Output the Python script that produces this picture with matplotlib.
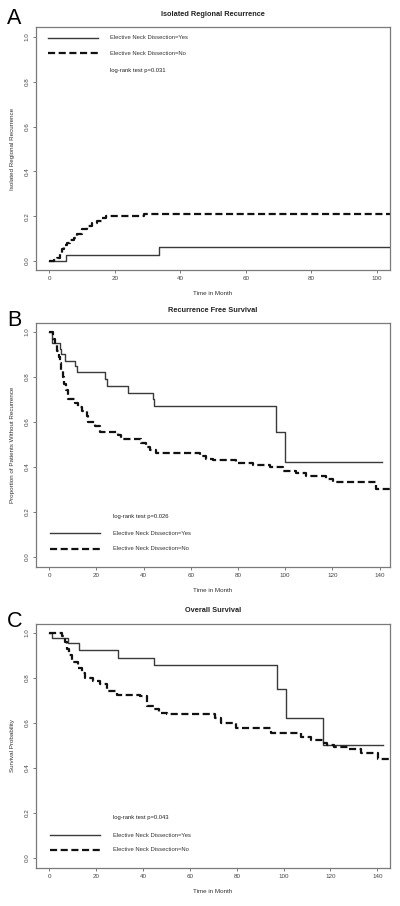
import matplotlib
matplotlib.use("Agg")
import matplotlib.pyplot as plt

plt.rcParams['font.family'] = ['Liberation Sans', 'DejaVu Sans']

# ---------------- Data ----------------
# Panel A: Isolated Regional Recurrence (cumulative incidence)
a_yes_t = [0, 5.3, 33.6, 104]
a_yes_v = [0.0, 0.025, 0.062, 0.062]
a_no_t = [0, 1.5, 2.5, 3.2, 3.8, 4.5, 5.5, 6.5, 7.5, 8.5, 10.0, 11.5, 13.0, 14.5, 16.0, 17.5, 29.0, 104]
a_no_v = [0.0, 0.006, 0.013, 0.03, 0.055, 0.07, 0.08, 0.092, 0.105, 0.12, 0.145, 0.155, 0.168, 0.18, 0.19, 0.2, 0.21, 0.21]

# Panel B: Recurrence Free Survival
b_yes_t = [0, 1.0, 4.5, 5.0, 6.6, 10.9, 11.9, 23.6, 24.3, 33.5, 44.0, 44.5, 96.0, 100.1, 141]
b_yes_v = [1.0, 0.95, 0.925, 0.90, 0.87, 0.85, 0.82, 0.79, 0.76, 0.73, 0.70, 0.67, 0.555, 0.42, 0.42]
b_no_t = [0, 1.7, 2.4, 3.1, 4.0, 4.5, 5.2, 6.0, 6.4, 6.9, 8.0, 10.9, 12.3, 13.7, 15.8, 16.5, 19.3, 21.5,
          29.2, 30.6, 32.8, 39.1, 41.2, 42.6, 45.4, 63.8, 66.6, 69.4, 79.3, 86.4, 93.4, 99.1, 104.7,
          109.0, 117.4, 120.3, 138.6, 145]
b_no_v = [1.0, 0.97, 0.94, 0.915, 0.89, 0.86, 0.83, 0.80, 0.77, 0.74, 0.70, 0.685, 0.668, 0.65, 0.625,
          0.598, 0.58, 0.557, 0.542, 0.523, 0.523, 0.505, 0.49, 0.476, 0.461, 0.447, 0.434, 0.431, 0.416,
          0.409, 0.398, 0.384, 0.372, 0.361, 0.347, 0.332, 0.302, 0.302]

# Panel C: Overall Survival
c_yes_t = [0, 1.0, 8.1, 12.8, 29.5, 44.7, 97.0, 101.1, 116.6, 142.2]
c_yes_v = [1.0, 0.976, 0.954, 0.924, 0.891, 0.859, 0.750, 0.624, 0.50, 0.50]
c_no_t = [0, 5.5, 6.5, 7.4, 8.5, 9.6, 12.4, 14.0, 15.3, 18.8, 21.7, 24.5, 28.8, 38.8, 41.6, 44.5, 46.6,
          50.2, 70.9, 73.1, 79.5, 94.4, 107.3, 111.6, 117.3, 118.7, 121.6, 127.3, 133.0, 140.2, 145]
c_no_v = [1.0, 0.985, 0.96, 0.929, 0.90, 0.869, 0.845, 0.82, 0.801, 0.786, 0.771, 0.741, 0.726, 0.719,
          0.676, 0.661, 0.646, 0.638, 0.624, 0.601, 0.578, 0.557, 0.536, 0.525, 0.513, 0.501, 0.494,
          0.484, 0.466, 0.440, 0.426]

titles = ["Isolated Regional Recurrence", "Recurrence Free Survival", "Overall Survival"]
ylabels = ["Isolated Regional Recurrence", "Proportion of Patients Without Recurrence", "Survival Probability"]
letters = ["A", "B", "C"]
pvals = ["log-rank test p=0.031", "log-rank test p=0.026", "log-rank test p=0.043"]
legend_labels = ["Elective Neck Dissection=Yes", "Elective Neck Dissection=No"]
xticks_a = [0, 20, 40, 60, 80, 100]
xticks_bc = [0, 20, 40, 60, 80, 100, 120, 140]
yticks = [0.0, 0.2, 0.4, 0.6, 0.8, 1.0]
xlabel = "Time in Month"

# ---------------- Figure ----------------
W, H = 400, 906
fig = plt.figure(figsize=(W / 100, H / 100), dpi=100)

def frac_rect(l, t, r, b):
    return [l / W, 1 - b / H, (r - l) / W, (b - t) / H]

rects = [frac_rect(36, 27, 390, 270), frac_rect(36, 323, 390, 567), frac_rect(36, 624, 390, 868)]
xlims = [(-4, 104), (-5.6, 144.4), (-5.7, 145.4)]
ylims = [(-0.04, 1.045), (-0.045, 1.04), (-0.045, 1.04)]
data = [(a_yes_t, a_yes_v, a_no_t, a_no_v), (b_yes_t, b_yes_v, b_no_t, b_no_v),
        (c_yes_t, c_yes_v, c_no_t, c_no_v)]
xticks_list = [xticks_a, xticks_bc, xticks_bc]
leg_pos = [
    dict(x0=0.034, x1=0.175, tx=0.209, ys=0.955, yd=0.893, yp=0.823),
    dict(x0=0.040, x1=0.181, tx=0.2175, ys=0.139, yd=0.074, yp=0.205),
    dict(x0=0.040, x1=0.181, tx=0.2175, ys=0.135, yd=0.074, yp=0.205),
]
title_y = [14, 310, 610]
letter_base = [24, 326, 627]

axis_col = "#7a7a7a"
tick_col = "#444444"
solid_col = "#3a3a3a"
dash_col = "#111111"
dash_style = (0, (3.2, 1.6))

for i in range(3):
    ax = fig.add_axes(rects[i])
    yt, yv, nt, nv = data[i]
    ax.step(yt, yv, where='post', color=solid_col, lw=1.0)
    ax.step(nt, nv, where='post', color=dash_col, lw=1.6, linestyle=dash_style)
    ax.set_xlim(*xlims[i])
    ax.set_ylim(*ylims[i])
    ax.set_xticks(xticks_list[i])
    ax.set_yticks(yticks)
    ax.set_xticklabels([str(v) for v in xticks_list[i]])
    ax.set_yticklabels([f"{v:.1f}" for v in yticks], rotation=90, va='center')
    ax.tick_params(axis='both', direction='out', length=2.5, width=0.7, color=axis_col,
                   labelsize=4.5, labelcolor=tick_col, pad=2)
    for s in ax.spines.values():
        s.set_color(axis_col)
        s.set_linewidth(0.9)
    ax.set_xlabel(xlabel, fontsize=4.5, color="#333333", labelpad=7)
    ax.set_ylabel(ylabels[i], fontsize=4.5, color="#333333", labelpad=7)

    lp = leg_pos[i]
    ax.plot([lp['x0'], lp['x1']], [lp['ys'], lp['ys']], transform=ax.transAxes,
            color=solid_col, lw=1.0)
    ax.plot([lp['x0'], lp['x1']], [lp['yd'], lp['yd']], transform=ax.transAxes,
            color=dash_col, lw=1.6, linestyle=dash_style)
    ax.text(lp['tx'], lp['ys'], legend_labels[0], transform=ax.transAxes, fontsize=4.2,
            va='center', ha='left', color="#333333")
    ax.text(lp['tx'], lp['yd'], legend_labels[1], transform=ax.transAxes, fontsize=4.2,
            va='center', ha='left', color="#333333")
    ax.text(lp['tx'], lp['yp'], pvals[i], transform=ax.transAxes, fontsize=4.2,
            va='center', ha='left', color="#222222")

    fig.text(213 / W, 1 - title_y[i] / H, titles[i], fontsize=5.3, fontweight='bold',
             ha='center', va='center', color="#222222")
    fig.text(7 / W, 1 - letter_base[i] / H, letters[i], fontsize=15.5, ha='left',
             va='baseline', color="black")

fig.savefig("out.png", dpi=100, facecolor="white")
